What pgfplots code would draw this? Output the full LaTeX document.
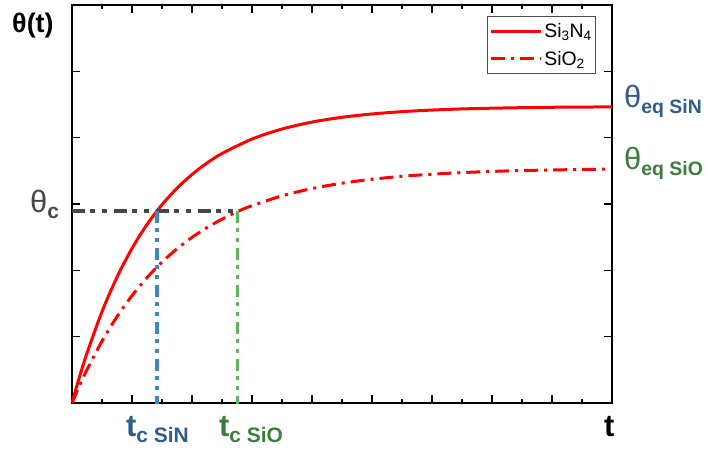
\documentclass[border=0pt]{standalone}
\usepackage{fontspec}
\setmainfont{Liberation Sans}
\usepackage{pgfplots}
\pgfplotsset{compat=1.18}
\definecolor{lblblue}{HTML}{2E5D8A}
\definecolor{lblgreen}{HTML}{3B7D3B}
\definecolor{lnblue}{HTML}{3F86C4}
\definecolor{lngreen}{HTML}{5DB55D}
\definecolor{refgray}{HTML}{474747}
\newcommand{\bigsym}[1]{\fontsize{31}{31}\selectfont #1}
\newcommand{\subsym}[1]{\raisebox{-6bp}{\fontsize{21}{21}\selectfont\bfseries #1}}
\newcommand{\subsymr}[1]{\raisebox{-6bp}{\fontsize{19.5}{20}\selectfont\bfseries #1}}
\begin{document}
\begin{tikzpicture}[x=1bp,y=1bp]
\useasboundingbox (0,0) rectangle (707,453);
\begin{axis}[
  at={(72bp,50bp)}, anchor=south west,
  scale only axis, width=540bp, height=398bp,
  xmin=0, xmax=9, ymin=0, ymax=6,
  xtick={0,...,9}, minor x tick num=1, ytick={0,...,6},
  xticklabels={}, yticklabels={},
  tick align=inside, major tick length=8bp, minor tick length=4bp,
  every tick/.style={black, line width=1.1bp},
  axis line style={line width=1.4bp},
  clip=false,
  legend style={at={(0.7685,0.972)}, anchor=north west, draw=black!70, line width=0.7bp,
    font=\fontsize{19.5}{21}\selectfont, inner xsep=2bp, inner ysep=5bp, row sep=8bp},
  legend cell align=left,
  legend image code/.code={\draw[#1] (0bp,0bp) -- (50bp,0bp);},
]
\addplot[red, line width=3bp, smooth] coordinates {
  (0,0) (0.125,0.393) (0.25,0.751) (0.5,1.377) (0.75,1.897) (1.0,2.330) (1.25,2.690)
  (1.5,2.989) (1.75,3.238) (2.0,3.445) (2.25,3.618) (2.5,3.761) (3.0,3.979) (3.5,4.130)
  (4.0,4.235) (4.5,4.307) (5.0,4.357) (5.5,4.392) (6.0,4.416) (6.5,4.433) (7.0,4.444)
  (7.5,4.452) (8.0,4.458) (8.5,4.461) (9.0,4.464)};
\addlegendentry{Si\textsubscript{3}N\textsubscript{4}}
\addplot[red, line width=3bp, smooth, dash pattern=on 14bp off 6bp on 3bp off 6bp] coordinates {
  (0,0) (0.125,0.260) (0.25,0.501) (0.5,0.932) (0.75,1.301) (1.0,1.618) (1.25,1.890)
  (1.5,2.124) (1.75,2.324) (2.0,2.497) (2.25,2.644) (2.5,2.771) (2.76,2.887) (3.0,2.974)
  (3.5,3.123) (4.0,3.233) (4.5,3.313) (5.0,3.373) (5.5,3.417) (6.0,3.449) (6.5,3.473)
  (7.0,3.491) (7.5,3.504) (8.0,3.513) (8.5,3.520) (8.92,3.525)};
\addlegendentry{SiO\textsubscript{2}}
\addplot[draw=refgray, line width=3.4bp, dash pattern=on 13bp off 5bp on 5bp off 7bp on 5bp off 7bp, forget plot]
  coordinates {(0,2.895) (2.76,2.895)};
\addplot[draw=lnblue, line width=3.4bp, dash pattern=on 12bp off 5bp on 4bp off 6bp on 4bp off 6bp, forget plot]
  coordinates {(1.417,2.895) (1.417,-0.02)};
\addplot[draw=lngreen, line width=3.4bp, dash pattern=on 12bp off 5bp on 4bp off 6bp on 4bp off 6bp, forget plot]
  coordinates {(2.76,2.895) (2.76,-0.02)};
\end{axis}
\node[anchor=base west, inner sep=0] at (12,420) {\fontsize{27}{27}\selectfont\bfseries θ(t)};
\node[anchor=base west, inner sep=0, text=refgray] at (30,240) {\bigsym{θ}\subsym{c}};
\node[anchor=base west, inner sep=0, text=lblblue] at (126,16) {\bigsym{\bfseries t}\subsym{c SiN}};
\node[anchor=base west, inner sep=0, text=lblgreen] at (219,16) {\bigsym{\bfseries t}\subsym{c SiO}};
\node[anchor=base west, inner sep=0] at (604,16) {\bigsym{\bfseries t}};
\node[anchor=base west, inner sep=0, text=lblblue] at (624,345) {\bigsym{θ}\subsymr{eq SiN}};
\node[anchor=base west, inner sep=0, text=lblgreen] at (624,283) {\bigsym{θ}\subsymr{eq SiO}};
\end{tikzpicture}
\end{document}
